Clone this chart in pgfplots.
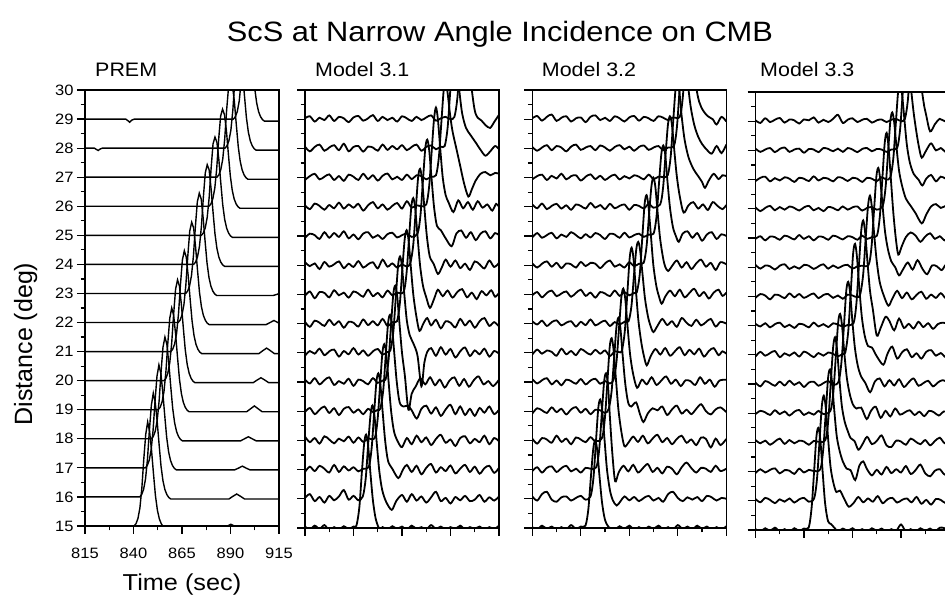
\documentclass[border=0pt]{standalone}
\usepackage{pgfplots}
\pgfplotsset{compat=1.18}
\usepackage{fontspec}
\setmainfont{Liberation Sans}[FakeStretch=1.1]
\newfontfamily\plainsans{Liberation Sans}
\pgfplotsset{
  seis/.style={scale only axis, width=194pt, xmin=815, xmax=915, ymin=15, ymax=30,
    axis line style={line width=1.5pt}, tick style={black, line width=1.2pt},
    tick align=outside, tick pos=left, xtick={815,840,865,890,915}, ytick={15,...,30},
    minor x tick num=1, minor y tick num=1, major tick length=8pt, minor tick length=4.5pt,
    /pgf/number format/assume math mode=true,
    ticklabel style={font=\fontsize{15}{15}\selectfont},
    xticklabel style={yshift=-10pt}},
  nolab/.style={xticklabels={}, yticklabels={}},
  prem/.style={black, line width=1.4pt, mark=none},
  mod/.style={black, line width=1.8pt, mark=none, smooth, tension=0.5},
}
\newcommand\tr[3][mod]{\addplot[#1] table[row sep=\\,y expr={\thisrowno{1}+#2}]{#3\\};}
\begin{document}
\begin{tikzpicture}[x=1pt,y=1pt]
% ---------------- PREM ----------------
\begin{axis}[seis, height=436pt, at={(85pt,71pt)}]
\tr[prem]{15}{815 0\\840.3 0\\841.3 .08\\842.3 .26\\843.3 .62\\844.3 1.3\\845.3 2.3\\846.3 3.15\\847.3 3.58\\848.3 3.25\\849.3 2.6\\850.3 1.8\\851.3 1.05\\852.3 .55\\853.3 .25\\854.3 .08\\855.3 -.02\\856.3 -.07\\886.2 -.07\\888.2 -.01\\890.2 .06\\892.2 -.01\\894.2 -.07\\915 -.07}
\tr[prem]{16}{815 0\\843.2 0\\844.2 .08\\845.2 .26\\846.2 .62\\847.2 1.3\\848.2 2.3\\849.2 3.15\\850.2 3.57\\851.2 3.25\\852.2 2.6\\853.2 1.8\\854.2 1.05\\855.2 .55\\856.2 .25\\857.2 .08\\858.2 -.02\\859.2 -.07\\889.2 -.07\\891.2 .02\\893.2 .1\\895.2 .02\\897.2 -.07\\915 -.07}
\tr[prem]{17}{815 0\\846.1 0\\847.1 .08\\848.1 .26\\849.1 .62\\850.1 1.3\\851.1 2.3\\852.1 3.15\\853.1 3.54\\854.1 3.25\\855.1 2.6\\856.1 1.8\\857.1 1.05\\858.1 .55\\859.1 .25\\860.1 .08\\861.1 -.02\\862.1 -.07\\892.1 -.07\\894.1 -.01\\896.1 .06\\898.1 -.01\\900.1 -.07\\915 -.07}
\tr[prem]{18}{815 0\\849.2 0\\850.2 .08\\851.2 .26\\852.2 .62\\853.2 1.3\\854.2 2.3\\855.2 3.15\\856.2 3.5\\857.2 3.25\\858.2 2.6\\859.2 1.8\\860.2 1.05\\861.2 .55\\862.2 .25\\863.2 .08\\864.2 -.02\\865.2 -.07\\895.2 -.07\\897.2 0\\899.2 .07\\901.2 0\\903.2 -.07\\915 -.07}
\tr[prem]{19}{815 0\\852.7 0\\853.7 .08\\854.7 .26\\855.7 .62\\856.7 1.3\\857.7 2.3\\858.7 3.15\\859.7 3.5\\860.7 3.25\\861.7 2.6\\862.7 1.8\\863.7 1.05\\864.7 .55\\865.7 .25\\866.7 .08\\867.7 -.02\\868.7 -.07\\898.3 -.07\\900.3 .03\\902.3 .13\\904.3 .03\\906.3 -.07\\915 -.07}
\tr[prem]{20}{815 0\\855.7 0\\856.7 .08\\857.7 .26\\858.7 .62\\859.7 1.3\\860.7 2.3\\861.7 3.15\\862.7 3.47\\863.7 3.25\\864.7 2.6\\865.7 1.8\\866.7 1.05\\867.7 .55\\868.7 .25\\869.7 .08\\870.7 -.02\\871.7 -.07\\901.7 -.07\\903.7 .02\\905.7 .1\\907.7 .02\\909.7 -.07\\915 -.07}
\tr[prem]{21}{815 0\\859.2 0\\860.2 .08\\861.2 .26\\862.2 .62\\863.2 1.3\\864.2 2.3\\865.2 3.15\\866.2 3.47\\867.2 3.25\\868.2 2.6\\869.2 1.8\\870.2 1.05\\871.2 .55\\872.2 .25\\873.2 .08\\874.2 -.02\\875.2 -.07\\904.6 -.07\\906.6 .03\\908.6 .12\\910.6 .03\\912.6 -.07\\915 -.07}
\tr[prem]{22}{815 0\\863 0\\864 .08\\865 .26\\866 .62\\867 1.3\\868 2.3\\869 3.15\\870 3.45\\871 3.25\\872 2.6\\873 1.8\\874 1.05\\875 .55\\876 .25\\877 .08\\878 -.02\\879 -.07\\908.4 -.07\\910.4 0\\912.4 .07\\914.4 0\\915 -.02}
\tr[prem]{23}{815 0\\866.9 0\\867.9 .08\\868.9 .26\\869.9 .62\\870.9 1.3\\871.9 2.3\\872.9 3.15\\873.9 3.45\\874.9 3.25\\875.9 2.6\\876.9 1.8\\877.9 1.05\\878.9 .55\\879.9 .25\\880.9 .08\\881.9 -.02\\882.9 -.07\\912 -.07\\914 -.03\\915 0}
\tr[prem]{24}{815 0\\871 0\\872 .08\\873 .26\\874 .62\\875 1.3\\876 2.3\\877 3.15\\878 3.43\\879 3.25\\880 2.6\\881 1.8\\882 1.05\\883 .55\\884 .25\\885 .08\\886 -.02\\887 -.07\\915 -.07}
\tr[prem]{25}{815 0\\875 0\\876 .08\\877 .26\\878 .62\\879 1.3\\880 2.3\\881 3.15\\882 3.38\\883 3.2\\884 2.6\\885 1.8\\886 1.05\\887 .55\\888 .25\\889 .08\\890 -.02\\891 -.07\\915 -.07}
\tr[prem]{26}{815 0\\878.9 0\\879.9 .08\\880.9 .26\\881.9 .62\\882.9 1.3\\883.9 2.3\\884.9 3.1\\885.9 3.34\\886.9 3.15\\887.9 2.6\\888.9 1.8\\889.9 1.05\\890.9 .55\\891.9 .25\\892.9 .08\\893.9 -.02\\894.9 -.07\\915 -.07}
\tr[prem]{27}{815 0\\883 0\\884 .08\\885 .26\\886 .62\\887 1.3\\888 2.3\\889 3.1\\890 3.3\\891 3.15\\892 2.6\\893 1.8\\894 1.05\\895 .55\\896 .25\\897 .08\\898 -.02\\899 -.07\\915 -.07}
\tr[prem]{28}{815 0\\819.8 0\\821 -.05\\821.8 -.08\\822.8 -.03\\824 0\\887.2 0\\888.2 .08\\889.2 .26\\890.2 .62\\891.2 1.3\\892.2 2.3\\893.2 3.1\\894.2 3.3\\895.2 3.15\\896.2 2.6\\897.2 1.8\\898.2 1.05\\899.2 .55\\900.2 .25\\901.2 .08\\902.2 -.02\\903.2 -.07\\915 -.07}
\tr[prem]{29}{815 0\\836 0\\837.2 -.06\\838 -.11\\839 -.04\\840.5 0\\891.5 0\\892.5 .08\\893.5 .26\\894.5 .62\\895.5 1.3\\896.5 2.3\\897.5 3.1\\898.5 3.3\\899.5 3.15\\900.5 2.6\\901.5 1.8\\902.5 1.05\\903.5 .55\\904.5 .25\\905.5 .08\\906.5 -.02\\907.5 -.07\\915 -.07}
\end{axis}
% ---------------- Model 3.1 ----------------
\begin{axis}[seis, nolab, height=438pt, at={(305pt,69pt)}]
\tr{15}{815 .05\\817.5 -.06\\820 .08\\822.5 -.03\\825 .1\\827.5 -.08\\830 .03\\832.5 -.05\\835 .06\\837.5 -.03\\840 .05\\841.5 .08\\843 .7\\844.3 1.9\\845.5 2.9\\846.5 3.2\\847.5 2.85\\848.7 1.9\\850 .95\\851.5 .3\\853.5 -.05\\855 .03\\857.5 -.05\\860 .06\\862.5 -.03\\865 .05\\867.5 -.06\\870 .08\\872.5 -.03\\875 .03\\877.5 -.05\\880 .1\\882.5 -.03\\885 .05\\887.5 -.05\\890 .03\\892.5 -.03\\895 .08\\897.5 -.05\\900 .03\\902.5 -.03\\905 .05\\907.5 -.06\\910 .03\\912.5 -.03\\915 .08}
\tr{16}{815 .03\\817.5 .16\\820 -.08\\822.5 .06\\825 -.13\\827.5 .1\\830 -.05\\832.5 .08\\835 .3\\837.5 -.03\\840 .1\\842.5 -.05\\844.8 .08\\846.3 .7\\847.6 1.9\\848.8 2.9\\849.8 3.2\\850.8 2.85\\852 1.9\\853.3 .95\\854.8 .3\\856.8 -.1\\859.7 -.38\\862 -.08\\865 .13\\867.5 -.1\\870 .16\\872.5 -.06\\875 .08\\877.5 -.13\\880 .05\\882.5 .24\\885 -.08\\887.5 .03\\890 -.16\\892.5 .06\\895 -.05\\897.5 .1\\900 -.08\\902.5 -.03\\905 .13\\907.5 -.1\\910 .05\\912.5 -.06\\915 .08}
\tr{17}{815 -.08\\817.5 .1\\820 -.05\\822.5 .13\\825 .03\\827.5 -.1\\830 .16\\832.5 -.08\\835 .11\\837.5 -.03\\840 .08\\842.5 -.06\\845 .03\\847.8 .08\\849.3 .7\\850.6 1.9\\851.8 3\\852.8 3.3\\853.8 2.95\\855 2\\856.3 1\\857.8 .3\\860 .03\\863.1 -.29\\865.5 0\\867.5 .16\\870 -.08\\872.5 .13\\875 -.16\\877.5 .06\\880 .19\\882.5 -.1\\885 .08\\887.5 -.05\\890 .14\\892.5 -.13\\895 .03\\897.5 .16\\900 -.08\\902.5 .1\\905 -.14\\907.5 .05\\910 .13\\912.5 -.11\\915 .06}
\tr{18}{815 .13\\817.5 -.06\\820 .08\\822.5 -.11\\825 .14\\827.5 .03\\830 -.1\\832.5 .06\\835 -.03\\837.5 .13\\840 -.08\\842.5 .1\\845 -.05\\847.5 .06\\850.9 .08\\852.4 .7\\853.7 1.9\\854.9 3\\855.9 3.3\\856.9 2.95\\858.1 2\\859.4 1\\860.9 .3\\862.9 -.05\\865 -.23\\867.5 .08\\870 -.13\\872.5 .16\\875 -.06\\877.5 .1\\880 -.16\\882.5 .05\\885 .19\\887.5 -.08\\890 .03\\892.5 -.19\\895 .08\\897.5 .14\\900 -.1\\902.5 .05\\905 -.06\\907.5 .16\\910 -.13\\912.5 .08\\915 -.03}
\tr{19}{815 -.03\\817.5 .11\\820 -.1\\822.5 .05\\825 .16\\827.5 -.06\\830 .1\\832.5 -.13\\835 .08\\837.5 .14\\840 -.05\\842.5 .06\\845 -.1\\847.5 .08\\850 -.03\\852.5 .05\\853.8 .08\\855.3 .7\\856.6 1.9\\857.8 3\\858.8 3.3\\859.8 2.95\\861 2\\862.3 1\\863.8 .3\\865.8 .16\\868 .19\\870 .03\\872.6 -.25\\875 .08\\877.5 .19\\880 -.08\\882.5 .13\\885 -.16\\887.5 .06\\890 .22\\892.5 -.1\\895 .16\\897.5 -.13\\900 .08\\902.5 -.16\\905 .11\\907.5 -.05\\910 .16\\912.5 -.1\\915 .05}
\tr{20}{815 .08\\817.5 -.05\\820 .13\\822.5 -.08\\825 .06\\827.5 .16\\830 -.1\\832.5 .03\\835 -.06\\837.5 .11\\840 -.13\\842.5 .08\\845 .03\\847.5 -.08\\850 .13\\852.5 -.03\\855 .05\\856.5 .08\\858 .7\\859.3 1.9\\860.5 3\\861.5 3.3\\862.5 2.95\\863.7 2\\865 1\\866.5 .2\\868.3 -.95\\870 -.4\\872 -.16\\874.5 .13\\877 -.08\\879.5 .16\\882 -.11\\884.5 .08\\887 -.19\\889.5 .05\\892 .16\\894.5 -.13\\897 .1\\899.5 -.16\\902 .06\\904.5 .19\\907 -.08\\909.5 .03\\912 -.14\\915 .08}
\tr{21}{815 -.1\\817.5 .06\\820 -.03\\822.5 .14\\825 -.08\\827.5 .05\\830 .11\\832.5 -.13\\835 .06\\837.5 -.05\\840 .16\\842.5 -.06\\845 .08\\847.5 -.1\\850 .05\\852.5 .13\\855 -.06\\857.5 .03\\859 .08\\860.5 .7\\861.8 1.9\\863 3\\864 3.3\\865 2.95\\866.2 2\\867.5 1.1\\869 .6\\871 .3\\873 -.1\\875 -1.15\\876.5 -.35\\878 .03\\880 .16\\882.5 -.1\\885 .19\\887.5 -.06\\890 .13\\892.5 -.16\\895 .05\\897.5 .18\\900 -.11\\902.5 .08\\905 -.05\\907.5 .14\\910 -.13\\912.5 .06\\915 -.03}
\tr{22}{815 .06\\817.5 -.11\\820 .1\\822.5 .03\\825 -.08\\827.5 .13\\830 -.05\\832.5 .08\\835 -.14\\837.5 .06\\840 .03\\842.5 -.1\\845 .14\\847.5 -.05\\850 .08\\852.5 -.06\\855 .16\\857.5 -.08\\860 .05\\862.4 .08\\863.9 .7\\865.2 1.9\\866.4 2.9\\867.4 3.2\\868.4 2.85\\869.6 1.9\\870.9 .95\\872.4 .25\\874 -.25\\876 0\\878 .19\\880 -.06\\882.5 .13\\885 -.16\\887.5 .08\\890 .03\\892.5 -.13\\895 .16\\897.5 -.06\\900 .1\\902.5 -.14\\905 .08\\907.5 .19\\910 -.08\\912.5 .05\\915 -.1}
\tr{23}{815 -.05\\817.5 .1\\820 -.13\\822.5 .08\\825 .05\\827.5 -.1\\830 .14\\832.5 -.03\\835 .06\\837.5 -.11\\840 .1\\842.5 .03\\845 -.08\\847.5 .16\\850 -.06\\852.5 .05\\855 -.1\\857.5 .13\\860 -.03\\862.5 .06\\865.8 .08\\867.3 .7\\868.6 1.9\\869.8 3\\870.8 3.3\\871.8 2.95\\873 2\\874.3 1\\875.8 .3\\877.5 -.1\\879.4 -.46\\881.5 -.16\\883.5 .16\\886 -.06\\888.5 .13\\891 -.11\\893.5 .08\\896 .18\\898.5 -.1\\901 .06\\903.5 -.16\\906 .11\\908.5 -.03\\911 .14\\913 -.08\\915 .05}
\tr{24}{815 .1\\817.5 -.03\\820 .06\\822.5 -.13\\825 .11\\827.5 -.05\\830 .03\\832.5 .13\\835 -.1\\837.5 .05\\840 -.06\\842.5 .14\\845 -.08\\847.5 .03\\850 .1\\852.5 -.11\\855 .19\\857.5 -.05\\860 .06\\862.5 -.08\\865 .03\\867.5 -.05\\869.3 .08\\870.8 .7\\872.1 1.9\\873.3 3\\874.3 3.3\\875.3 2.95\\876.5 2\\877.8 1\\879.3 .3\\881.3 .05\\883.5 -.3\\885.5 -.08\\887.5 .19\\890 -.05\\892.5 .16\\895 -.1\\897.5 .05\\900 -.16\\902.5 .13\\905 .03\\907.5 -.11\\910 .16\\912.5 -.06\\915 .08}
\tr{25}{815 -.06\\817.5 .08\\820 .03\\822.5 -.1\\825 .13\\827.5 -.06\\830 .1\\832.5 -.03\\835 .16\\837.5 -.08\\840 .05\\842.5 -.11\\845 .08\\847.5 .13\\850 -.06\\852.5 .03\\855 -.1\\857.5 .06\\860 .11\\862.5 -.05\\865 .03\\867.5 .08\\870 -.03\\873 .08\\874.5 .7\\875.8 1.9\\877 3\\878 3.3\\879 2.95\\880.2 2\\881.5 1\\883 .35\\885 .2\\887.5 -.08\\890.6 -.35\\893 .08\\895.5 .19\\898 -.06\\900.5 .13\\903 -.14\\905.5 .08\\908 .16\\910.5 -.08\\913 .1\\915 .03}
\tr{26}{815 .05\\817.5 -.08\\820 .11\\822.5 .03\\825 -.1\\827.5 .06\\830 -.05\\832.5 .14\\835 -.06\\837.5 .08\\840 -.03\\842.5 .1\\845 -.13\\847.5 .05\\850 .16\\852.5 -.05\\855 .08\\857.5 -.1\\860 .03\\862.5 .13\\865 -.06\\867.5 .19\\870 -.03\\872.5 .05\\875 .02\\877.5 .08\\879 .7\\880.3 1.9\\881.5 3\\882.5 3.4\\883.5 3\\884.7 2\\886 1\\887.5 .4\\889 .15\\891.5 -.18\\894 .22\\896.5 -.05\\899 .16\\901.5 -.1\\904 .19\\906.5 -.03\\909 .08\\911.5 -.13\\913.5 .1\\915 0}
\tr{27}{815 -.08\\817.5 .05\\820 .13\\822.5 -.06\\825 .03\\827.5 .11\\830 -.08\\832.5 .05\\835 -.11\\837.5 .1\\840 .03\\842.5 -.08\\845 .13\\847.5 -.05\\850 .08\\852.5 -.1\\855 .06\\857.5 .14\\860 -.06\\862.5 .03\\865 -.08\\867.5 .1\\870 -.05\\872.5 .08\\875 .05\\877.5 -.06\\880 .03\\882.5 .08\\884 .7\\885.3 1.9\\886.5 3\\887.5 3.3\\888.5 2.9\\889.7 2.2\\891 1.6\\893 1\\895 .4\\897 -.2\\899.2 -.65\\901 -.4\\903 -.1\\905.5 .13\\908 .19\\910.5 .08\\913 .16\\915 .13}
\tr{28}{815 .06\\817.5 -.1\\820 .05\\822.5 .13\\825 -.08\\827.5 .03\\830 .11\\832.5 -.06\\835 .16\\837.5 -.1\\840 .05\\842.5 .08\\845 -.11\\847.5 .06\\850 .03\\852.5 -.08\\855 .13\\857.5 -.05\\860 .08\\862.5 -.03\\865 .11\\867.5 -.06\\870 .05\\872.5 .13\\875 -.08\\877.5 .05\\880 .1\\882.5 -.03\\885 .06\\887 .08\\888.5 .7\\889.8 1.9\\891 3\\892 3.3\\893 2.9\\894.5 2\\896 1.2\\898 .7\\900.4 .45\\903 .2\\905.5 -.05\\908 -.25\\910.5 -.1\\913 .08\\915 -.03}
\tr{29}{815 .03\\817.5 .1\\820 -.08\\822.5 .05\\825 -.03\\827.5 .13\\830 -.06\\832.5 .08\\835 .03\\837.5 -.1\\840 .06\\842.5 .11\\845 -.05\\847.5 .03\\850 .14\\852.5 -.06\\855 .08\\857.5 -.03\\860 .05\\862.5 -.08\\865 .1\\867.5 .03\\870 -.06\\872.5 .08\\875 -.03\\877.5 .06\\880 .13\\882.5 -.05\\885 .03\\887.5 .08\\890 0\\892 .08\\893.5 .7\\894.8 1.9\\896 3\\897 3.3\\898 2.9\\899.5 2\\901 1\\902.5 .3\\904 .05\\906 -.05\\908 -.2\\910.4 -.3\\912.5 -.1\\915 .15}
\end{axis}
% ---------------- Model 3.2 ----------------
\begin{axis}[seis, nolab, height=438pt, at={(532.3pt,69pt)}]
\tr{15}{815 .03\\817.5 -.05\\820 .08\\822.5 -.03\\825 .05\\827.5 -.06\\830 .03\\832.5 -.05\\835 .1\\837.5 -.03\\840 .05\\842.4 .08\\843.9 .65\\845.2 1.75\\846.4 2.7\\847.4 3\\848.4 2.7\\849.6 1.8\\850.9 .9\\852.4 .3\\854.4 .03\\857.5 -.05\\860 .06\\862.5 -.03\\865 .08\\867.5 -.05\\870 .03\\872.5 -.06\\875 .05\\877.5 -.03\\880 .08\\882.5 -.05\\885 .03\\887.5 -.06\\890 .1\\892.5 -.03\\895 .05\\897.5 -.05\\900 .08\\902.5 -.03\\905 .05\\907.5 -.06\\910 .03\\912.5 -.05\\915 .06}
\tr{16}{815 .08\\817.5 -.06\\820 .16\\822.5 .24\\825 -.03\\827.5 -.1\\830 .05\\832.5 .08\\835 -.06\\837.5 .03\\840 .1\\842.5 -.03\\845 .08\\846.5 .7\\847.8 1.95\\849 3.1\\850 3.4\\851 3.05\\852.2 2.05\\853.5 1\\855 .3\\856.5 -.05\\858.5 -.23\\860.5 -.08\\862.5 .08\\865 -.05\\867.5 .06\\870 -.08\\872.5 .03\\875 .1\\877.5 -.06\\880 .03\\882.5 -.1\\885 .16\\887.5 .24\\890 .03\\892.5 -.08\\895 .05\\897.5 -.03\\900 .06\\902.5 -.08\\905 .1\\907.5 .05\\910 -.06\\912.5 .03\\915 0}
\tr{17}{815 -.05\\817.5 .08\\820 -.1\\822.5 .06\\825 .11\\827.5 -.08\\830 .05\\832.5 .13\\835 -.06\\837.5 .03\\840 -.1\\842.5 .06\\845 .03\\848 .08\\849.5 .7\\850.8 1.9\\852 3\\853 3.3\\854 2.9\\855 1.8\\856.2 .6\\857.7 -.4\\859.5 -.1\\862 .13\\864.5 -.06\\867 .16\\869.5 -.1\\872 .05\\874.5 .19\\877 -.08\\879.5 .06\\882 -.13\\884.5 .1\\887 .03\\889.5 -.16\\892 .08\\894.5 .24\\897 .05\\899.5 -.1\\902 .06\\904.5 .03\\907 -.08\\909.5 .13\\912 -.05\\915 .03}
\tr{18}{815 .06\\817.5 -.11\\820 .08\\822.5 .03\\825 -.08\\827.5 .16\\830 -.05\\832.5 .06\\835 -.13\\837.5 .1\\840 .03\\842.5 -.06\\845 .11\\847.5 -.03\\850.9 .08\\852.4 .75\\853.7 2\\854.9 3.2\\855.9 3.5\\856.9 3.1\\858.1 2.1\\859.4 1.05\\860.9 .3\\862.5 -.2\\864.5 -.08\\867 .13\\869.5 -.05\\872 .16\\874.5 -.1\\877 .06\\879.5 .19\\882 -.06\\884.5 .08\\887 -.13\\889.5 .05\\892 .16\\894.5 -.08\\897 .03\\899.5 -.16\\902 .1\\904.5 .05\\907 -.24\\909.5 .06\\912 -.16\\915 .05}
\tr{19}{815 -.08\\817.5 .1\\820 .03\\822.5 -.06\\825 .13\\827.5 -.03\\830 .08\\832.5 -.11\\835 .06\\837.5 .14\\840 -.05\\842.5 .08\\845 -.1\\847.5 .05\\850 .03\\852.5 -.06\\854.4 .08\\855.9 .7\\857.2 1.85\\858.4 2.9\\859.4 3.2\\860.4 2.85\\861.6 1.9\\862.9 .95\\864.4 .3\\866 .16\\868.5 .3\\870.5 -.1\\872.3 -.37\\874.5 -.08\\877 .1\\879.5 .03\\882 .16\\884.5 -.13\\887 .06\\889.5 .19\\892 -.08\\894.5 .05\\897 -.1\\899.5 .08\\902 .24\\904.5 0\\907 -.11\\909.5 .06\\912 .13\\915 -.03}
\tr{20}{815 .1\\817.5 -.05\\820 .06\\822.5 .13\\825 -.08\\827.5 .05\\830 -.11\\832.5 .08\\835 .03\\837.5 -.06\\840 .1\\842.5 -.08\\845 .05\\847.5 .11\\850 -.06\\852.5 .03\\855 -.05\\856.9 .08\\858.4 .7\\859.7 1.85\\860.9 2.9\\861.9 3.2\\862.9 2.85\\864.1 1.9\\865.4 .95\\866.9 .3\\869 -.2\\871.5 .08\\874 -.08\\876.5 .16\\879 -.1\\881.5 .05\\884 .19\\886.5 -.06\\889 .08\\891.5 -.14\\894 .06\\896.5 .03\\899 -.1\\901.5 .16\\904 -.06\\906.5 .08\\909 -.16\\911.5 .05\\915 .08}
\tr{21}{815 -.06\\817.5 .11\\820 -.03\\822.5 .08\\825 .03\\827.5 -.1\\830 .14\\832.5 -.05\\835 .06\\837.5 -.08\\840 .13\\842.5 .03\\845 -.06\\847.5 .1\\850 -.03\\852.5 .08\\855 -.11\\857.5 .05\\860 .02\\861.2 .08\\862.7 .75\\864 2.05\\865.2 3.25\\866.2 3.6\\867.2 3.2\\868.4 2.15\\869.7 1.1\\871.2 .35\\872.5 -.1\\874 -.43\\876 -.12\\878.5 .13\\881 -.06\\883.5 .16\\886 -.1\\888.5 .05\\891 .19\\893.5 -.08\\896 .1\\898.5 -.05\\901 .14\\903.5 -.13\\906 .06\\908.5 .16\\911 -.08\\913 .05\\915 -.03}
\tr{22}{815 .08\\817.5 -.03\\820 .1\\822.5 -.08\\825 .05\\827.5 .11\\830 -.06\\832.5 .03\\835 .08\\837.5 -.1\\840 .06\\842.5 -.05\\845 .14\\847.5 -.06\\850 .03\\852.5 .1\\855 -.08\\857.5 .05\\860 -.03\\862.5 .06\\864.6 .08\\866.1 .6\\867.4 1.65\\868.6 2.55\\869.6 2.8\\870.6 2.5\\871.8 1.7\\873.1 .85\\874.6 .25\\875.8 -.05\\877.4 -.29\\879.5 -.08\\882 .16\\884.5 -.05\\887 .08\\889.5 -.11\\892 .19\\894.5 .03\\897 -.08\\899.5 .13\\902 -.06\\904.5 .05\\907 .16\\909.5 -.1\\912 .06\\915 0}
\tr{23}{815 -.03\\817.5 .08\\820 -.1\\822.5 .05\\825 .13\\827.5 -.06\\830 .03\\832.5 .1\\835 -.08\\837.5 .05\\840 .16\\842.5 -.05\\845 .06\\847.5 -.11\\850 .08\\852.5 .03\\855 -.06\\857.5 .13\\860 -.05\\862.5 .08\\865 -.03\\867.5 .05\\868.9 .08\\870.4 .7\\871.7 1.95\\872.9 3.1\\873.9 3.4\\874.9 3\\876.1 2.05\\877.4 1\\878.9 .3\\880.2 -.05\\881.7 -.32\\883.5 -.08\\886 .13\\888.5 -.06\\891 .16\\893.5 -.1\\896 .05\\898.5 .19\\901 -.06\\903.5 .08\\906 -.14\\908.5 .06\\911 .16\\913 -.05\\915 .06}
\tr{24}{815 .06\\817.5 -.08\\820 .05\\822.5 .13\\825 -.05\\827.5 .08\\830 -.1\\832.5 .06\\835 .03\\837.5 -.08\\840 .11\\842.5 -.03\\845 .08\\847.5 .05\\850 -.1\\852.5 .06\\855 .16\\857.5 -.05\\860 .03\\862.5 -.08\\865 .1\\867.5 -.03\\870 .05\\872.4 .08\\873.9 .65\\875.2 1.75\\876.4 2.7\\877.4 3\\878.4 2.7\\879.6 1.8\\880.9 .9\\882.4 .25\\883.5 -.05\\885 -.2\\887 -.03\\889.5 .16\\892 -.08\\894.5 .1\\897 -.13\\899.5 .06\\902 .19\\904.5 -.05\\907 .08\\909.5 -.16\\912 .1\\915 .03}
\tr{25}{815 -.05\\817.5 .1\\820 -.06\\822.5 .03\\825 .11\\827.5 -.08\\830 .05\\832.5 -.03\\835 .13\\837.5 .03\\840 -.08\\842.5 .06\\845 -.05\\847.5 .1\\850 .03\\852.5 -.1\\855 .08\\857.5 .05\\860 -.06\\862.5 .11\\865 -.05\\867.5 .03\\870 .08\\872.5 -.03\\875 .05\\877.5 .08\\879 .65\\880.3 1.8\\881.5 2.8\\882.5 3.1\\883.5 2.8\\884.7 1.85\\886 .95\\887.5 .3\\889 0\\890.5 -.2\\892.5 .08\\895 .16\\897.5 -.06\\900 .1\\902.5 -.16\\905 .05\\907.5 .13\\910 -.1\\912.5 .06\\915 0}
\tr{26}{815 .08\\817.5 -.05\\820 .11\\822.5 -.08\\825 .03\\827.5 .1\\830 -.06\\832.5 .05\\835 -.1\\837.5 .08\\840 .03\\842.5 -.06\\845 .13\\847.5 -.03\\850 .06\\852.5 -.08\\855 .1\\857.5 -.05\\860 .03\\862.5 .08\\865 -.1\\867.5 .06\\870 .03\\872.5 -.06\\875 .1\\877.5 -.03\\880.9 .08\\882.4 .65\\883.7 1.8\\884.9 2.8\\885.9 3.1\\886.9 2.85\\888.1 2\\889.4 1.1\\890.9 .4\\893 -.2\\895.5 .05\\898 .16\\900.5 -.06\\903 .08\\905.5 -.11\\908 .16\\910.5 .03\\913 -.08\\915 .06}
\tr{27}{815 -.06\\817.5 .05\\820 .1\\822.5 -.08\\825 .06\\827.5 -.03\\830 .13\\832.5 -.06\\835 .05\\837.5 .08\\840 -.1\\842.5 .03\\845 .11\\847.5 -.05\\850 .06\\852.5 -.08\\855 .03\\857.5 .1\\860 -.06\\862.5 .05\\865 -.03\\867.5 .08\\870 .03\\872.5 -.06\\875 .1\\877.5 -.05\\880 .03\\882.5 .02\\884.8 .08\\886.3 .7\\887.6 1.9\\888.8 3\\889.8 3.3\\890.8 2.95\\892 2.1\\893.5 1.3\\895.5 .7\\898 .3\\900.5 .05\\902.5 -.15\\904 -.35\\906 -.1\\908.5 .13\\911 -.05\\913 .08\\915 .05}
\tr{28}{815 .05\\817.5 -.08\\820 .03\\822.5 .11\\825 -.06\\827.5 .08\\830 .03\\832.5 -.1\\835 .06\\837.5 .13\\840 -.05\\842.5 .03\\845 .08\\847.5 -.06\\850 .1\\852.5 .03\\855 -.08\\857.5 .05\\860 .11\\862.5 -.03\\865 .06\\867.5 -.08\\870 .05\\872.5 .1\\875 -.05\\877.5 .03\\880 .08\\882.5 -.06\\885 .03\\888 .08\\889.5 .7\\890.8 1.9\\892 3\\893 3.3\\894 2.95\\895.2 2.2\\896.7 1.4\\898.5 .8\\900.5 .4\\902.5 .15\\905 -.05\\907.5 -.18\\910 .08\\912.5 -.16\\915 .13}
\tr{29}{815 .03\\817.5 .11\\820 -.05\\822.5 .08\\825 .16\\827.5 -.06\\830 .05\\832.5 .1\\835 -.08\\837.5 .03\\840 .06\\842.5 -.1\\845 .08\\847.5 .13\\850 -.03\\852.5 .05\\855 -.06\\857.5 .1\\860 .03\\862.5 -.08\\865 .06\\867.5 .11\\870 -.05\\872.5 .08\\875 .03\\877.5 -.06\\880 .1\\882.5 .05\\885 -.03\\887.5 .06\\891 .08\\892.5 .7\\893.8 1.9\\895 3\\896 3.3\\897 2.9\\898.2 2\\899.5 1.1\\901 .6\\903 .3\\905.5 .1\\908 0\\910 -.18\\912.5 .08\\915 -.08}
\end{axis}
% ---------------- Model 3.3 ----------------
\begin{axis}[seis, nolab, height=438pt, at={(755.5pt,67pt)}]
\tr{15}{815 .03\\817.5 -.05\\820 .06\\822.5 -.03\\825 .08\\827.5 -.05\\830 .03\\832.5 -.06\\835 .06\\837.5 -.03\\840 .05\\842.4 .08\\843.9 .75\\845.2 2\\846.4 3.2\\847.4 3.5\\848.4 3.1\\849.6 2\\850.9 .9\\852.4 .3\\854 .2\\856 .05\\857.5 -.05\\860 .05\\862.5 -.03\\865 .06\\867.5 -.05\\870 .03\\872.5 -.05\\875 .06\\877.5 -.03\\880 .05\\882.5 -.06\\885 .03\\887.5 -.03\\890 .19\\892.5 -.05\\895 .03\\897.5 -.05\\900 .06\\902.5 -.03\\905 .05\\907.5 -.05\\910 .08\\912.5 .06\\915 -.03}
\tr{16}{815 .06\\817.5 -.05\\820 .1\\822.5 .03\\825 -.08\\827.5 .05\\830 -.03\\832.5 .08\\835 -.06\\837.5 .05\\840 .1\\842.5 -.03\\845.2 .08\\846.7 .75\\848 2.05\\849.2 3.25\\850.2 3.6\\851.2 3.2\\852.4 2.15\\853.7 1.15\\855.2 .6\\856.7 .3\\858.5 .35\\860.5 .1\\863 -.2\\865.5 -.08\\868 .13\\870.5 -.05\\873 .08\\875.5 -.03\\878 .16\\880.5 -.08\\883 .05\\885.5 .1\\888 -.06\\890.5 .03\\893 .08\\895.5 -.05\\898 .13\\900.5 -.1\\903 .03\\905.5 -.13\\908 .06\\910.5 .03\\913 -.08\\915 .05}
\tr{17}{815 -.05\\817.5 .08\\820 -.03\\822.5 .06\\825 .11\\827.5 -.06\\830 .05\\832.5 .03\\835 -.08\\837.5 .1\\840 -.03\\842.5 .06\\845 .02\\848.4 .08\\849.9 .75\\851.2 2\\852.4 3.2\\853.4 3.5\\854.4 3.1\\855.6 2.1\\856.9 1.2\\858.4 .7\\860 .35\\862 .1\\864 .05\\866.4 -.29\\868.5 .2\\870.5 .35\\872.5 .08\\875 -.13\\877.5 .06\\880 -.1\\882.5 .16\\885 -.05\\887.5 .08\\890 -.03\\892.5 .19\\895 -.08\\897.5 .05\\900 .24\\902.5 -.06\\905 -.16\\907.5 .03\\910 .08\\912.5 -.1\\915 .05}
\tr{18}{815 .08\\817.5 -.03\\820 .06\\822.5 -.08\\825 .03\\827.5 .13\\830 -.05\\832.5 .08\\835 -.03\\837.5 .06\\840 .03\\842.5 -.08\\845 .05\\847.5 .02\\851 .08\\852.5 .75\\853.8 2.05\\855 3.25\\856 3.6\\857 3.2\\858.2 2.2\\859.5 1.25\\861 .7\\862.5 .4\\864 .15\\866 .05\\868 -.25\\870 -.08\\872.5 .19\\875 -.06\\877.5 .05\\880 .24\\882.5 -.1\\885 -.16\\887.5 .06\\890 .03\\892.5 -.08\\895 .13\\897.5 .03\\900 -.06\\902.5 .08\\905 -.1\\907.5 .05\\910 .16\\912.5 -.03\\915 .06}
\tr{19}{815 -.03\\817.5 .08\\820 .03\\822.5 -.06\\825 .1\\827.5 -.03\\830 .06\\832.5 -.08\\835 .05\\837.5 .11\\840 -.06\\842.5 .03\\845 -.05\\847.5 .08\\850 -.03\\853.6 .08\\855.1 .7\\856.4 1.95\\857.6 3.1\\858.6 3.4\\859.6 3\\860.8 2.05\\862.1 1.2\\863.6 .65\\865.2 .3\\867 .16\\869.5 .19\\872.3 -.2\\874.5 .08\\877 .22\\879.5 -.16\\882 .08\\884.5 -.11\\887 .16\\889.5 -.05\\892 .03\\894.5 .1\\897 -.06\\899.5 .05\\902 -.1\\904.5 .08\\907 .03\\909.5 -.08\\912 .06\\915 .03}
\tr{20}{815 .05\\817.5 -.08\\820 .1\\822.5 .03\\825 -.06\\827.5 .08\\830 -.05\\832.5 .11\\835 -.03\\837.5 .06\\840 -.1\\842.5 .05\\845 .08\\847.5 -.06\\850 .03\\852.5 .1\\855 -.03\\857.8 .08\\859.3 .75\\860.6 2\\861.8 3.2\\862.8 3.5\\863.8 3.1\\865 2.1\\866.3 1.2\\867.8 .6\\869.5 .25\\871.5 .05\\874.1 -.28\\876.5 .08\\879 .19\\881.5 -.08\\884 .13\\886.5 -.05\\889 .16\\891.5 -.1\\894 .06\\896.5 .19\\899 -.06\\901.5 .03\\904 .11\\906.5 -.08\\909 .05\\911.5 .13\\915 .03}
\tr{21}{815 -.06\\817.5 .1\\820 -.03\\822.5 .06\\825 .13\\827.5 -.08\\830 .05\\832.5 -.03\\835 .08\\837.5 -.06\\840 .11\\842.5 .03\\845 -.08\\847.5 .06\\850 -.03\\852.5 .08\\855 .03\\857.5 -.05\\860 .03\\861.3 .08\\862.8 .8\\864.1 2.15\\865.3 3.45\\866.3 3.8\\867.3 3.35\\868.5 2.3\\869.8 1.3\\871.3 .65\\873 .3\\875 .25\\877.5 -.05\\880.9 -.34\\883 .03\\885.5 .28\\888 -.13\\890.5 .08\\893 .19\\895.5 -.08\\898 .05\\900.5 -.13\\903 .1\\905.5 .16\\908 -.03\\910.5 .06\\913 -.08\\915 .08}
\tr{22}{815 .06\\817.5 -.03\\820 .08\\822.5 -.06\\825 .05\\827.5 .1\\830 -.05\\832.5 .03\\835 -.08\\837.5 .06\\840 .03\\842.5 -.06\\845 .1\\847.5 -.03\\850 .05\\852.5 -.05\\855 .08\\857.5 .03\\860 -.03\\862.5 .02\\865.5 .08\\867 .75\\868.3 2.05\\869.5 3.25\\870.5 3.6\\871.5 3.2\\872.7 2.2\\874 1.2\\875.5 .55\\877.5 -.34\\879.5 -.08\\882 .3\\884 .16\\886.5 -.16\\889 .24\\891.5 -.08\\894 .06\\896.5 -.1\\899 .13\\901.5 -.05\\904 .08\\906.5 -.11\\909 .05\\911.5 .1\\915 .05}
\tr{23}{815 -.05\\817.5 .08\\820 .03\\822.5 -.1\\825 .06\\827.5 .03\\830 -.06\\832.5 .1\\835 -.03\\837.5 .08\\840 -.05\\842.5 .03\\845 .1\\847.5 -.06\\850 .05\\852.5 .08\\855 -.05\\857.5 .03\\860 -.08\\862.5 .06\\865 .03\\867.5 -.03\\869 .08\\870.5 .75\\871.8 2\\873 3.1\\874 3.45\\875 3.05\\876.2 2.1\\877.5 1.2\\879 .5\\881 .05\\883.5 -.32\\885.5 -.08\\888 .19\\890.5 -.06\\893 .13\\895.5 -.1\\898 .05\\900.5 .16\\903 -.08\\905.5 .06\\908 -.05\\910.5 .11\\913 -.06\\915 .03}
\tr{24}{815 .08\\817.5 -.05\\820 .06\\822.5 .03\\825 -.08\\827.5 .05\\830 .1\\832.5 -.06\\835 .03\\837.5 -.05\\840 .08\\842.5 .05\\845 -.06\\847.5 .03\\850 .1\\852.5 -.05\\855 .06\\857.5 -.03\\860 .05\\862.5 .08\\865 -.05\\867.5 .03\\870 .05\\873.3 .08\\874.8 .7\\876.1 1.95\\877.3 3.1\\878.3 3.4\\879.3 3\\880.5 2.1\\881.8 1.2\\883.3 .6\\885 .2\\887 0\\889 -.28\\891 -.08\\893.5 .16\\896 -.08\\898.5 .24\\901 -.05\\903.5 -.24\\906 .06\\908.5 .03\\911 -.1\\913 .08\\915 .05}
\tr{25}{815 -.03\\817.5 .06\\820 -.08\\822.5 .05\\825 .03\\827.5 -.06\\830 .08\\832.5 .03\\835 -.05\\837.5 .1\\840 -.03\\842.5 .06\\845 -.08\\847.5 .05\\850 .03\\852.5 -.06\\855 .08\\857.5 .03\\860 -.05\\862.5 .06\\865 .03\\867.5 -.06\\870 .08\\872.5 -.03\\875 .03\\877.6 .08\\879.1 .75\\880.4 2.05\\881.6 3.25\\882.6 3.6\\883.6 3.1\\884.8 2\\886 .9\\887.3 0\\888.6 -.57\\890.3 -.3\\892.5 .03\\895 .19\\897.5 .08\\900 -.13\\902.5 .05\\905 .16\\907.5 -.03\\910 .06\\912.5 -.08\\915 .08}
\tr{26}{815 .05\\817.5 -.08\\820 .03\\822.5 .1\\825 -.05\\827.5 .06\\830 -.03\\832.5 .08\\835 .03\\837.5 -.06\\840 .05\\842.5 .1\\845 -.05\\847.5 .03\\850 -.08\\852.5 .06\\855 .03\\857.5 -.05\\860 .08\\862.5 -.03\\865 .05\\867.5 .08\\870 -.06\\872.5 .03\\875 .06\\877.5 -.03\\880.5 .08\\882 .7\\883.3 1.9\\884.5 3\\885.5 3.3\\886.5 2.95\\887.7 2.1\\889 1.3\\890.5 .8\\892.5 .35\\895 .1\\897.5 -.15\\900.7 -.5\\903 -.2\\905.5 .08\\908 .16\\910.5 .03\\913 .1\\915 .05}
\tr{27}{815 -.05\\817.5 .06\\820 .1\\822.5 -.06\\825 .05\\827.5 -.03\\830 .08\\832.5 .03\\835 -.08\\837.5 .06\\840 .03\\842.5 -.05\\845 .11\\847.5 -.03\\850 .06\\852.5 .03\\855 -.06\\857.5 .08\\860 .05\\862.5 -.05\\865 .06\\867.5 .03\\870 -.08\\872.5 .06\\875 .03\\877.5 -.05\\880 .08\\882.5 0\\884.5 .08\\886 .7\\887.3 1.9\\888.5 3\\889.5 3.3\\890.5 2.95\\891.7 2.1\\893 1.2\\894.5 .6\\896.5 .2\\899 0\\901 -.2\\903 .03\\905.5 .16\\908 -.06\\910.5 .1\\913 .03\\915 -.05}
\tr{28}{815 .06\\817.5 -.05\\820 .03\\822.5 .08\\825 -.06\\827.5 .05\\830 .1\\832.5 -.05\\835 .03\\837.5 .06\\840 -.08\\842.5 .05\\845 .03\\847.5 -.06\\850 .08\\852.5 .05\\855 -.03\\857.5 .06\\860 -.05\\862.5 .08\\865 .03\\867.5 -.06\\870 .05\\872.5 .08\\875 -.03\\877.5 .05\\880 .03\\882.5 -.05\\885 .03\\888 .08\\889.5 .7\\890.8 1.9\\892 3\\893 3.3\\894 2.95\\895.2 2.1\\896.5 1.3\\898 .6\\899.3 .1\\900.7 -.25\\903 0\\905.5 .24\\908 0\\910.5 .08\\913 -.05\\915 .06}
\tr{29}{815 .03\\817.5 -.06\\820 .1\\822.5 -.03\\825 .05\\827.5 .11\\830 -.05\\832.5 .06\\835 .03\\837.5 -.08\\840 .06\\842.5 .03\\845 .13\\847.5 -.05\\850 .05\\852.5 -.03\\855 .08\\857.5 .22\\860 -.06\\862.5 .05\\865 .1\\867.5 -.03\\870 .05\\872.5 .08\\875 -.05\\877.5 .03\\880 .06\\882.5 -.03\\885 .05\\887.5 .08\\890 0\\892 .08\\893.5 .7\\894.8 1.9\\896 3\\897 3.3\\898 2.95\\899.2 2.1\\900.5 1.2\\902 .5\\903 .2\\905 -.35\\907.5 -.1\\910 .08\\912.5 0\\915 .15}
\end{axis}
% ---------------- texts ----------------
\node[anchor=base, inner sep=0] at (500pt,555pt) {\fontsize{28}{30}\selectfont ScS at Narrow Angle Incidence on CMB};
\node[anchor=base west, inner sep=0] at (95pt,520pt) {\fontsize{19.5}{20}\selectfont PREM};
\node[anchor=base west, inner sep=0] at (315pt,520pt) {\fontsize{19.5}{20}\selectfont Model 3.1};
\node[anchor=base west, inner sep=0] at (541.7pt,520pt) {\fontsize{19.5}{20}\selectfont Model 3.2};
\node[anchor=base west, inner sep=0] at (760pt,520pt) {\fontsize{19.5}{20}\selectfont Model 3.3};
\node[anchor=base, inner sep=0] at (182pt,6pt) {\fontsize{23}{24}\selectfont Time (sec)};
\node[anchor=base, inner sep=0, rotate=90] at (32pt,253pt) {\plainsans\fontsize{25}{26}\selectfont Distance (deg)};
\pgfresetboundingbox
\path[use as bounding box] (0,0) rectangle (945pt,597pt);
\end{tikzpicture}
\end{document}
